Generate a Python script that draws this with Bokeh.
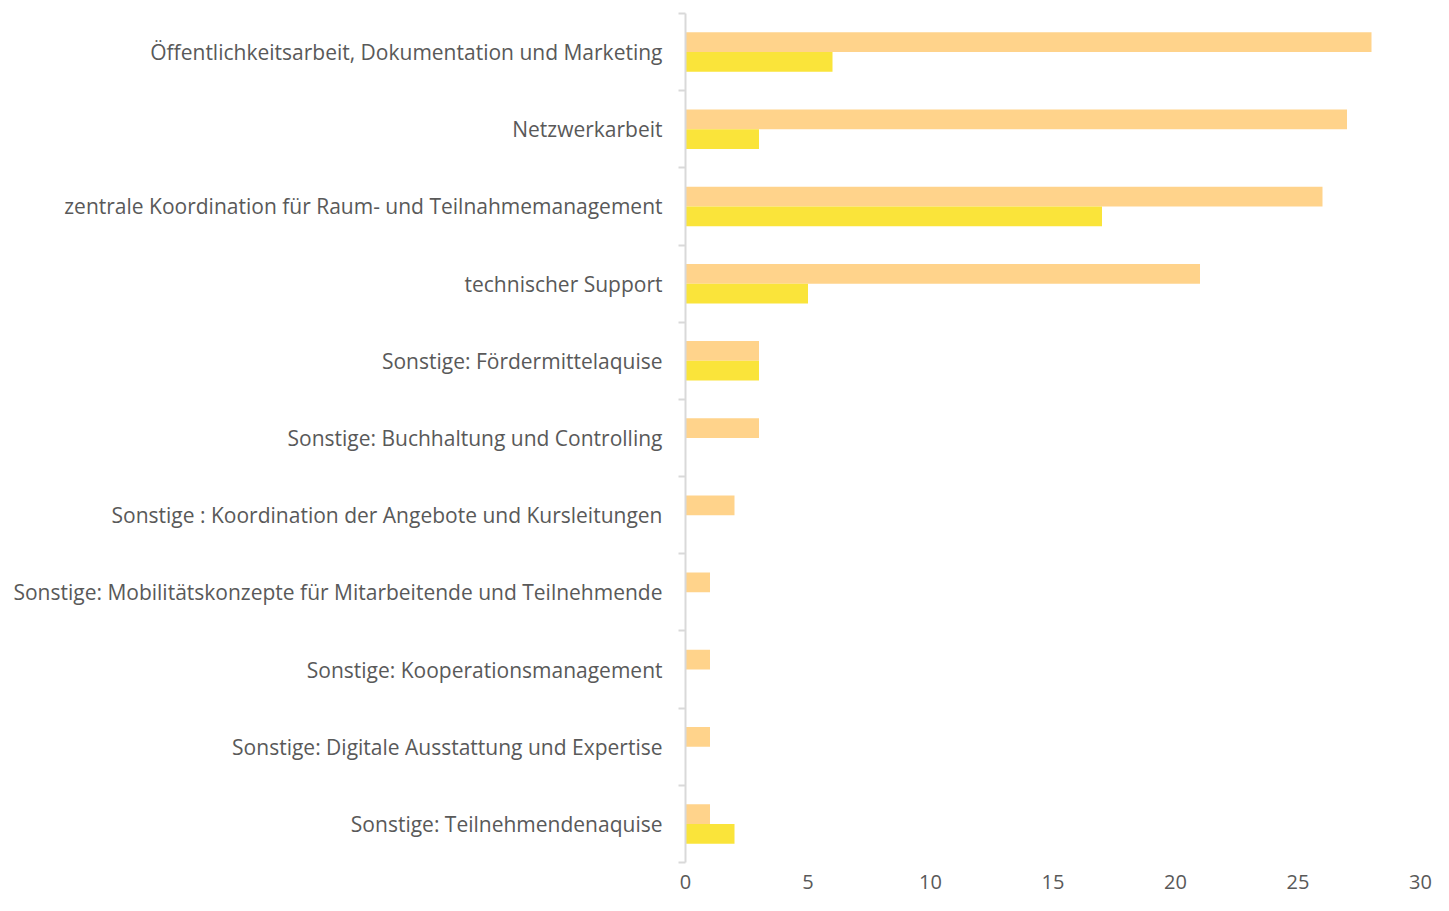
import pandas as pd
from bokeh.plotting import figure
from bokeh.models import ColumnDataSource, FixedTicker, Range1d
from bokeh.embed import file_html
from bokeh.resources import INLINE

categories = [
    "Öffentlichkeitsarbeit, Dokumentation und Marketing",
    "Netzwerkarbeit",
    "zentrale Koordination für Raum- und Teilnahmemanagement",
    "technischer Support",
    "Sonstige: Fördermittelaquise",
    "Sonstige: Buchhaltung und Controlling",
    "Sonstige : Koordination der Angebote und Kursleitungen",
    "Sonstige: Mobilitätskonzepte für Mitarbeitende und Teilnehmende",
    "Sonstige: Kooperationsmanagement",
    "Sonstige: Digitale Ausstattung und Expertise",
    "Sonstige: Teilnehmendenaquise",
]
series_a = [28, 27, 26, 21, 3, 3, 2, 1, 1, 1, 1]
series_b = [6, 3, 17, 5, 3, 0, 0, 0, 0, 0, 2]
x_ticks = [0, 5, 10, 15, 20, 25, 30]

n = len(categories)
df = pd.DataFrame({"cat": categories, "a": series_a, "b": series_b})
df["y"] = [n - 1 - i + 0.5 for i in range(n)]
bar_h = 0.256
df["ya"] = df["y"] + bar_h / 2
df["yb"] = df["y"] - bar_h / 2
src = ColumnDataSource(df)

p = figure(width=1436, height=898, output_backend="svg", toolbar_location=None,
           x_range=Range1d(0, 30), y_range=Range1d(0, n),
           min_border_left=685, min_border_right=16, min_border_top=13, min_border_bottom=36)
p.outline_line_color = None
p.xgrid.visible = False
p.ygrid.visible = False

p.hbar(y="ya", right="a", left=0, height=bar_h, source=src, color="#FFD38B", line_color=None)
p.hbar(y="yb", right="b", left=0, height=bar_h, source=src, color="#FAE43A", line_color=None)

font = "Open Sans"
grey = "#595959"

p.xaxis.ticker = FixedTicker(ticks=x_ticks)
p.xaxis.axis_line_color = None
p.xaxis.major_tick_line_color = None
p.xaxis.minor_tick_line_color = None
p.xaxis.major_label_text_font = font
p.xaxis.major_label_text_font_size = "20px"
p.xaxis.major_label_text_color = grey
p.xaxis.major_label_standoff = 6

centers = list(df["y"])
p.yaxis.ticker = FixedTicker(ticks=centers, minor_ticks=list(range(n + 1)))
p.yaxis.major_label_overrides = {c: lab for c, lab in zip(centers, categories)}
p.yaxis.axis_line_color = "#D9D9D9"
p.yaxis.axis_line_width = 2
p.yaxis.major_tick_line_color = None
p.yaxis.minor_tick_line_color = "#D9D9D9"
p.yaxis.minor_tick_line_width = 2
p.yaxis.minor_tick_out = 7
p.yaxis.minor_tick_in = 0
p.yaxis.major_tick_out = 0
p.yaxis.major_tick_in = 0
p.yaxis.major_label_standoff = 16
p.yaxis.major_label_text_font = font
p.yaxis.major_label_text_font_size = "21px"
p.yaxis.major_label_text_color = grey

open("out.html", "w").write(file_html(p, INLINE))
